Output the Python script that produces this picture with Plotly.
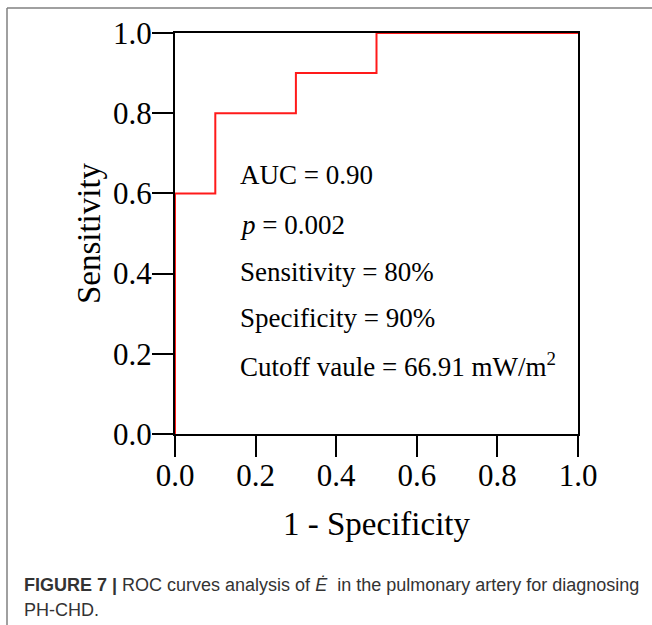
import plotly.graph_objects as go

# ROC curve data (1 - specificity, sensitivity)
fpr = [0.0, 0.0, 0.1, 0.1, 0.3, 0.3, 0.5, 0.5, 1.0]
tpr = [0.0, 0.6, 0.6, 0.8, 0.8, 0.9, 0.9, 1.0, 1.0]

tick_vals = [0.0, 0.2, 0.4, 0.6, 0.8, 1.0]
tick_text = ["0.0", "0.2", "0.4", "0.6", "0.8", "1.0"]

stats_lines = [
    "AUC = 0.90",
    "<i>p</i> = 0.002",
    "Sensitivity = 80%",
    "Specificity = 90%",
    "Cutoff vaule = 66.91 mW/m<sup>2</sup>",
]

caption_line1 = "<b>FIGURE 7 |</b> ROC curves analysis of <i>Ė</i>  in the pulmonary artery for diagnosing"
caption_line2 = "PH-CHD."

W, H = 652, 625
L, R, T, B = 175, 74, 33, 191
pw, ph = W - L - R, H - T - B

def px_x(px):
    return (px - L) / pw

def px_y(py):
    return (H - B - py) / ph

serif = "Liberation Serif, Times New Roman, serif"

fig = go.Figure()
fig.add_trace(go.Scatter(
    x=fpr, y=tpr, mode="lines",
    line=dict(color="#ff1a1a", width=2),
    showlegend=False, hoverinfo="skip",
))

axis_common = dict(
    range=[0, 1],
    tickvals=tick_vals,
    ticktext=tick_text,
    showgrid=False,
    zeroline=False,
    showline=True,
    linecolor="black",
    linewidth=2,
    mirror=True,
    ticks="outside",
    ticklen=21,
    tickwidth=2,
    tickcolor="black",
    tickfont=dict(family=serif, size=31, color="black"),
)

fig.update_layout(
    width=W, height=H,
    margin=dict(l=L, r=R, t=T, b=B, pad=0),
    paper_bgcolor="white",
    plot_bgcolor="white",
    xaxis=dict(**axis_common,
               ticklabelstandoff=-8,
               title=dict(text="1 - Specificity",
                          font=dict(family=serif, size=33, color="black"),
                          standoff=20)),
    yaxis=dict(**axis_common,
               ticklabelstandoff=-6,
               title=dict(text="Sensitivity",
                          font=dict(family=serif, size=33, color="black"),
                          standoff=2)),
)

stats_px_y = [175, 225, 272, 318, 365]
for txt, py in zip(stats_lines, stats_px_y):
    fig.add_annotation(
        x=px_x(238), y=px_y(py), xref="paper", yref="paper",
        text=txt, showarrow=False, xanchor="left", yanchor="middle",
        font=dict(family=serif, size=27, color="black"),
    )

# caption
cap_font = "Liberation Sans, Arial, sans-serif"
fig.add_annotation(
    x=px_x(22), y=px_y(585), xref="paper", yref="paper",
    text=caption_line1, showarrow=False, xanchor="left", yanchor="middle",
    font=dict(family=cap_font, size=18, color="#333333"),
)
fig.add_annotation(
    x=px_x(22), y=px_y(610), xref="paper", yref="paper",
    text=caption_line2, showarrow=False, xanchor="left", yanchor="middle",
    font=dict(family=cap_font, size=18, color="#333333"),
)

# outer frame (left and top edges)
fig.add_shape(type="line", xref="paper", yref="paper",
              x0=px_x(7), y0=px_y(8), x1=px_x(7), y1=px_y(625),
              line=dict(color="#808080", width=1.5))
fig.add_shape(type="line", xref="paper", yref="paper",
              x0=px_x(7), y0=px_y(8), x1=px_x(652), y1=px_y(8),
              line=dict(color="#808080", width=1.5))

fig.write_html("out.html")
